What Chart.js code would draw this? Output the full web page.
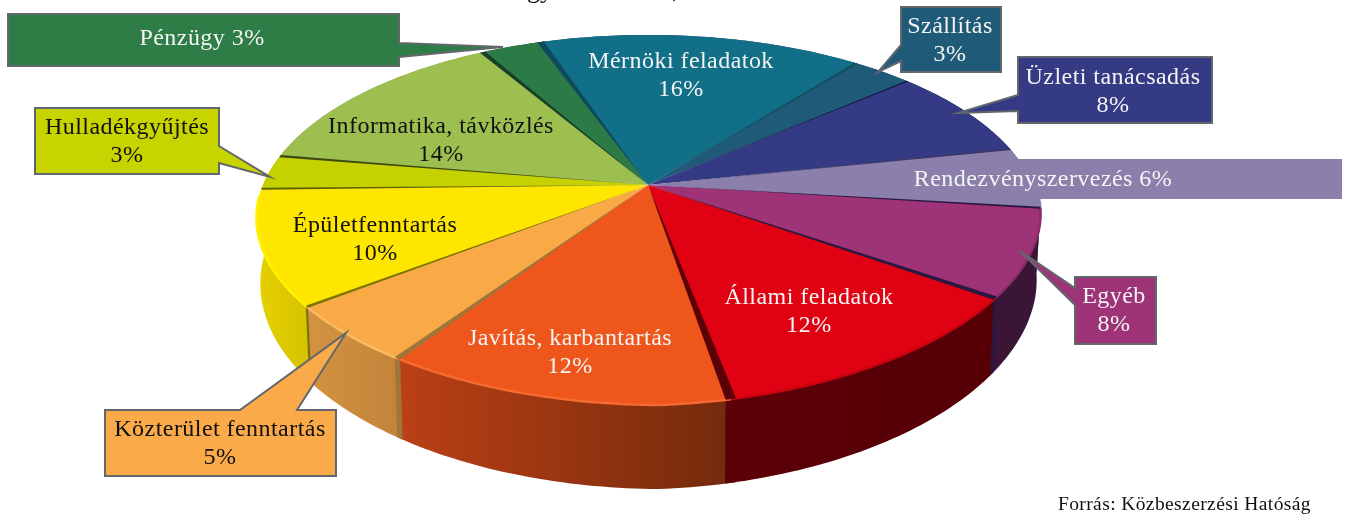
<!DOCTYPE html>
<html lang="hu">
<head>
<meta charset="utf-8">
<title>Megoszlás</title>
<script src="https://cdn.jsdelivr.net/npm/chart.js@4"></script>
<style>
html,body{margin:0;padding:0;background:#fff;overflow:hidden}
canvas{display:block}
</style>
</head>
<body>
<canvas id="c" width="1346" height="514"></canvas>
<script>
const categories = ["Pénzügy","Mérnöki feladatok","Szállítás","Üzleti tanácsadás","Rendezvényszervezés","Egyéb","Állami feladatok","Javítás, karbantartás","Közterület fenntartás","Épületfenntartás","Hulladékgyűjtés","Informatika, távközlés"];
const values = [3,16,3,8,6,8,12,12,5,10,3,14];
const sourceNote = "Forrás: Közbeszerzési Hatóság";

const topColors = ["#2c7a45","#116f88","#1f5a78","#353a85","#8b80ab","#9e3378","#e00212","#ee561c","#f9aa47","#fee600","#c6d200","#9dbf50"];
const wallLeft  = ["#1c5030","#0a4a5c","#143c50","#22255a","#5a5270","#3a1535","#5c0008","#bc4015","#d39340","#e6d200","#a8b200","#7a9a3a"];
const wallRight = ["#1c5030","#0a4a5c","#143c50","#22255a","#5a5270","#3a1535","#560006","#742a0c","#c2843a","#d6c200","#a8b200","#7a9a3a"];
const rimColors = ["#2c7a45","#116f88","#1f5a78","#353a85","#8b80ab","#8a2c6a","#c80210","#f46a30","#fbbb62","#fff200","#c6d200","#9dbf50"];
// seam at the start of each slice
const edgeColors = ["#173f28","#0e4a5e","#15505f","#14184a","#3c3660","#2c1740","#2c1740","#5c0008","#a0753a","#7a7400","#5c6200","#3f4a10"];
const edgeSpread = [0.5,0.6,0.35,0.2,0.25,0.35,0.5,0.65,0.45,0.3,0.3,0.4];
const textColors = ["#f4f4f4","#f4f4f4","#f4f4f4","#f4f4f4","#f4f4f4","#f4f4f4","#f4f4f4","#f4f4f4","#111","#111","#111","#111"];
const calloutFill = ["#2e7d47",null,"#1f5a78","#353a85","#8b80ab","#9e3378",null,null,"#fbaa4a",null,"#c8d400",null];

// projection of the pie disc onto the page (perspective tilt)
const cx = 648, cy = 185, ax = 385, ay = 178.4, tilt = 0.189;
const depthBase = 62, depthFront = 22, bottomShrinkX = 0.99, skewX = 14, skewY = 20;

const callouts = [
 {box:[8,14,399,66],  ptr:[399,43,503,47,399,57], text:[202,39], one:true, border:true},
 {box:null, text:[681,62]},
 {box:[901,7,1001,72], ptr:[901,45,878,72,901,61], text:[950,27], border:true},
 {box:[1018,57,1212,123], ptr:[1018,95,958,113,1018,111], text:[1113,78], border:true},
 {box:[1015,159,1342,199], ptr:null, text:[1043,180], one:true, border:false},
 {box:[1075,277,1156,344], ptr:[1075,288,1020,251,1075,305], text:[1114,297], border:true},
 {box:null, text:[809,298]},
 {box:null, text:[570,339]},
 {box:[105,410,336,476], ptr:[240,410,346,333,297,410], text:[220,430], border:true},
 {box:null, text:[375,226]},
 {box:[35,108,219,174], ptr:[219,146,270,177,219,163], text:[127,128], border:true},
 {box:null, text:[441,127]}
];
const FONT = '"Liberation Serif", serif';

function proj(a, level, r){
  const rr = r===undefined?1:r;
  const u = Math.cos(a)*rr, v = Math.sin(a)*rr;
  const p = 1/(1 - tilt*v);
  const vf = Math.max(v,0);
  const sx = skewX*vf*vf;
  const sy = u>0 ? -skewY*u*Math.sqrt(vf) : 0;
  if(level===0) return [cx + ax*u*p + sx, cy + ay*v*p + sy];
  return [cx + ax*u*p*bottomShrinkX + sx, cy + ay*v*p + sy + depthBase + depthFront*v];
}
function rimPoints(a0,a1,level){
  const n = Math.max(2,Math.ceil((a1-a0)/(Math.PI/180)));
  const pts=[];
  for(let i=0;i<=n;i++) pts.push(proj(a0+(a1-a0)*i/n,level));
  return pts;
}
function poly(ctx,pts,fill){
  ctx.beginPath();
  pts.forEach((p,i)=> i?ctx.lineTo(p[0],p[1]):ctx.moveTo(p[0],p[1]));
  ctx.closePath();
  ctx.fillStyle=fill; ctx.fill();
}

const pie3d = {
  id:'pie3d',
  beforeDatasetDraw(){ return false; },
  afterDatasetsDraw(chart){
    const ctx = chart.ctx, arcs = chart.getDatasetMeta(0).data;
    const info = arcs.map((el,i)=>({i, a0:el.startAngle, a1:el.endAngle, mid:(el.startAngle+el.endAngle)/2}));
    ctx.save();
    // walls, back to front
    [...info].sort((p,q)=>Math.sin(p.mid)-Math.sin(q.mid)).forEach(s=>{
      const top = rimPoints(s.a0,s.a1,0), bot = rimPoints(s.a0,s.a1,1);
      const xs = top.map(p=>p[0]);
      const g = ctx.createLinearGradient(Math.min(...xs),0,Math.max(...xs),0);
      g.addColorStop(0,wallLeft[s.i]); g.addColorStop(1,wallRight[s.i]);
      poly(ctx,top.concat(bot.reverse()),g);
    });
    // seam strips on the wall
    info.forEach(s=>{
      if(Math.sin(s.a0)>0.1){
        const d=edgeSpread[s.i]*Math.PI/180;
        poly(ctx,[proj(s.a0-d,0),proj(s.a0+d,0),proj(s.a0+d,1),proj(s.a0-d,1)],edgeColors[s.i]);
      }
    });
    // top faces
    info.forEach(s=>{
      poly(ctx,[proj(0,0,0)].concat(rimPoints(s.a0,s.a1,0)),topColors[s.i]);
    });
    // soft bevel on the front rim
    info.forEach(s=>{
      const all=rimPoints(s.a0,s.a1,0);
      const pts=all.filter(p=>p[1]>cy+10);
      if(pts.length<2) return;
      ctx.beginPath();
      pts.forEach((p,k)=>k?ctx.lineTo(p[0],p[1]):ctx.moveTo(p[0],p[1]));
      ctx.strokeStyle=rimColors[s.i]; ctx.lineWidth=2.5; ctx.stroke();
    });
    // dark seams between slices, narrowing towards the centre
    info.forEach(s=>{
      const d=edgeSpread[s.i]*Math.PI/180;
      poly(ctx,[proj(0,0,0),proj(s.a0-d,0),proj(s.a0+d,0)],edgeColors[s.i]);
    });
    ctx.restore();
  },
  afterDraw(chart){
    const ctx = chart.ctx;
    ctx.save();
    callouts.forEach((c,i)=>{
      if(!c.box) return;
      const [x0,y0,x1,y1]=c.box;
      ctx.beginPath();
      ctx.moveTo(x0,y0);
      const p=c.ptr;
      if(p && p[1]===y0 && p[5]===y0){
        ctx.lineTo(p[0],y0);ctx.lineTo(p[2],p[3]);ctx.lineTo(p[4],y0);
        ctx.lineTo(x1,y0);ctx.lineTo(x1,y1);ctx.lineTo(x0,y1);
      } else if(p && p[0]===x1){
        ctx.lineTo(x1,y0);ctx.lineTo(p[0],p[1]);ctx.lineTo(p[2],p[3]);ctx.lineTo(p[4],p[5]);
        ctx.lineTo(x1,y1);ctx.lineTo(x0,y1);
      } else if(p){
        ctx.lineTo(x1,y0);ctx.lineTo(x1,y1);ctx.lineTo(x0,y1);
        ctx.lineTo(p[4],p[5]);ctx.lineTo(p[2],p[3]);ctx.lineTo(p[0],p[1]);
      } else { ctx.lineTo(x1,y0);ctx.lineTo(x1,y1);ctx.lineTo(x0,y1); }
      ctx.closePath();
      ctx.fillStyle = calloutFill[i];
      ctx.fill();
      if(c.border){ ctx.strokeStyle="#62676b"; ctx.lineWidth=2; ctx.lineJoin="miter"; ctx.stroke(); }
    });
    ctx.textAlign="center"; ctx.textBaseline="middle";
    ctx.font='24px '+FONT;
    ctx.letterSpacing='0.45px';
    categories.forEach((name,i)=>{
      const c=callouts[i], pct=values[i]+"%";
      ctx.fillStyle=textColors[i];
      if(c.one){ ctx.fillText(name+" "+pct,c.text[0],c.text[1]); }
      else { ctx.fillText(name,c.text[0],c.text[1]); ctx.fillText(pct,c.text[0],c.text[1]+27.5); }
    });
    ctx.fillStyle="#111"; ctx.textAlign="right";
    ctx.font='19.5px '+FONT; ctx.letterSpacing='0.4px';
    ctx.fillText(sourceNote,1311,505);
    ctx.textAlign="left"; ctx.textBaseline="alphabetic"; ctx.font='26px '+FONT; ctx.letterSpacing='0px';
    ctx.fillText("gy",527,-2);
    ctx.fillText(",",672,-2);
    ctx.restore();
  }
};

new Chart(document.getElementById('c'),{
  type:'pie',
  data:{labels:categories,datasets:[{data:values,backgroundColor:topColors,borderWidth:0}]},
  options:{
    responsive:false,animation:false,rotation:-30,
    events:[],
    plugins:{legend:{display:false},tooltip:{enabled:false},title:{display:false}}
  },
  plugins:[pie3d]
});
</script>
</body>
</html>
